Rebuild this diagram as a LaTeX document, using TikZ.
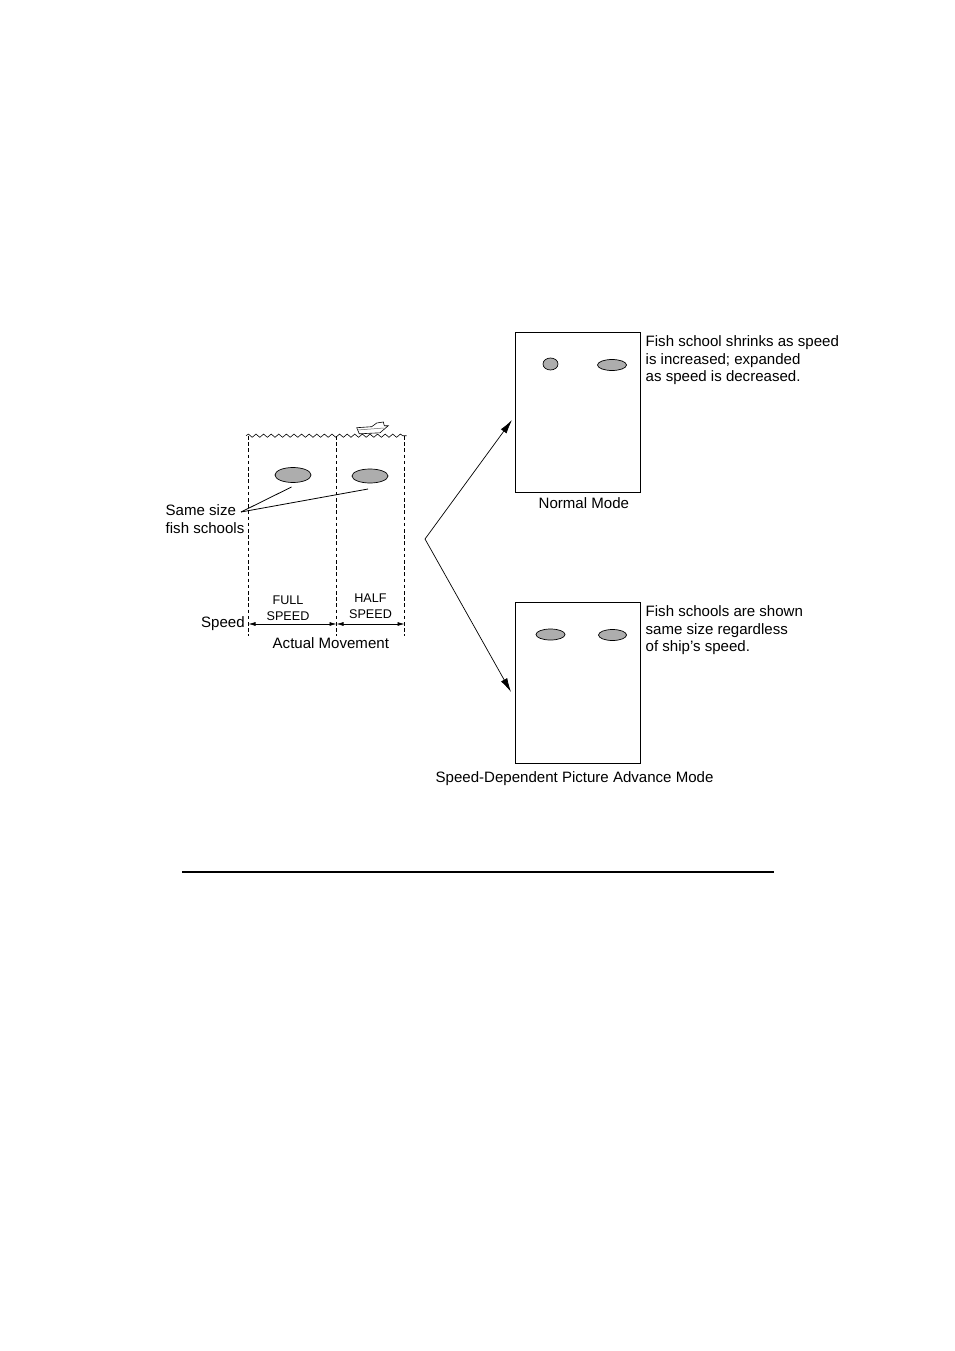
\documentclass[tikz,border=0pt]{standalone}
\usepackage{fontspec}
\setmainfont{Liberation Sans}
\usetikzlibrary{arrows.meta,decorations.pathmorphing,shapes.geometric}
\begin{document}
\begin{tikzpicture}[
  x=1pt, y=-1pt, font=\fontsize{15.05}{17.2}\selectfont,
  lbl/.style={align=left, inner sep=0pt, anchor=north west},
  small/.style={font=\fontsize{12.6}{16.4}\selectfont, align=center, inner sep=0pt},
  screen/.style={draw, line width=0.8pt, fill=white, inner sep=0pt},
  school/.style={draw, ellipse, fill=black!32, line width=0.7pt, inner sep=0pt},
  lane/.style={dash pattern=on 3.6pt off 2.6pt, line width=0.85pt},
  span/.style={{Latex[length=7pt,width=4pt]}-{Latex[length=7pt,width=4pt]}, line width=0.7pt},
  leader/.style={line width=0.8pt},
  flow/.style={-{Latex[length=14pt,width=7pt]}, line width=0.7pt},
]
  \useasboundingbox (0,0) rectangle (954,1351);
  % --- water surface and ship ---
  \coordinate (wl) at (246,435.7);
  \coordinate (wr) at (406.5,435.7);
  \draw[line width=0.6pt, fill=white] (356.7,427.7) -- (359.3,433.8) -- (380,432.8) -- (388.3,425.7) -- (384.3,425.7)
    -- (383.3,422) -- (376.7,423) -- (371.7,426.7) -- cycle;
  \draw[line width=0.5pt, black!60] (357.5,430) -- (384,428);
  \draw[line width=0.6pt, decorate, decoration={snake, segment length=7.6pt, amplitude=1.6pt}] (wl) -- (wr);
  % --- speed lanes ---
  \coordinate (latop) at (248.5,436);
  \coordinate (lbtop) at (336.5,436);
  \coordinate (lctop) at (404.5,436);
  \coordinate (labot) at (248.5,636);
  \coordinate (lbbot) at (336.5,636);
  \coordinate (lcbot) at (404.5,636);
  \coordinate (laarr) at (248.5,624);
  \coordinate (lbarr) at (336.5,624);
  \coordinate (lcarr) at (404.5,624);
  \draw[lane] (latop) -- (labot);
  \draw[lane] (lbtop) -- (lbbot);
  \draw[lane] (lctop) -- (lcbot);
  \draw[span] (laarr) -- (lbarr);
  \draw[span] (lbarr) -- (lcarr);
  \node[small] (full) at (288,608) {FULL\\SPEED};
  \node[small] (half) at (370.5,606.3) {HALF\\SPEED};
  \node[lbl] (speed) at (201,616.8) {Speed};
  \node[lbl] (actual) at (272.5,637.8) {Actual Movement};
  % --- fish schools ---
  \node[school, minimum width=36pt, minimum height=15pt] (s1) at (293,475) {};
  \node[school, minimum width=36pt, minimum height=14pt] (s2) at (370,476) {};
  \node[lbl] (same) at (165.5,504.8) {Same size\\fish schools};
  \coordinate (samept) at (241,512);
  \coordinate (s1end) at (291.5,487);
  \coordinate (s2end) at (368,489);
  \draw[leader] (samept) -- (s1end);
  \draw[leader] (samept) -- (s2end);
  % --- arrows to the two modes ---
  \coordinate (fork) at (425,539);
  \coordinate (fork1) at (512,420);
  \coordinate (fork2) at (511,692);
  \draw[flow] (fork) -- (fork1);
  \draw[flow] (fork) -- (fork2);
  % --- normal mode ---
  \node[screen, minimum width=124.5pt, minimum height=160.5pt] (normal) at (577.75,412.25) {};
  \node[school, minimum width=15pt, minimum height=12pt] (n1) at (550.5,364) {};
  \node[school, minimum width=29pt, minimum height=11pt] (n2) at (612,365) {};
  \node[lbl] (normaltxt) at (645.5,335.8) {Fish school shrinks as speed\\is increased; expanded\\as speed is decreased.};
  \node[lbl] (normalcap) at (538.5,497.8) {Normal Mode};
  % --- speed-dependent mode ---
  \node[screen, minimum width=125pt, minimum height=161pt] (adv) at (578,683) {};
  \node[school, minimum width=29pt, minimum height=11pt] (a1) at (550.5,634.5) {};
  \node[school, minimum width=28pt, minimum height=11pt] (a2) at (612.5,635) {};
  \node[lbl] (advtxt) at (645.5,605.8) {Fish schools are shown\\same size regardless\\of ship’s speed.};
  \node[lbl] (advcap) at (435.5,771.8) {Speed-Dependent Picture Advance Mode};
  % --- page rule ---
  \coordinate (rulel) at (182,872);
  \coordinate (ruler) at (774,872);
  \draw[line width=1.8pt] (rulel) -- (ruler);
\end{tikzpicture}
\end{document}
